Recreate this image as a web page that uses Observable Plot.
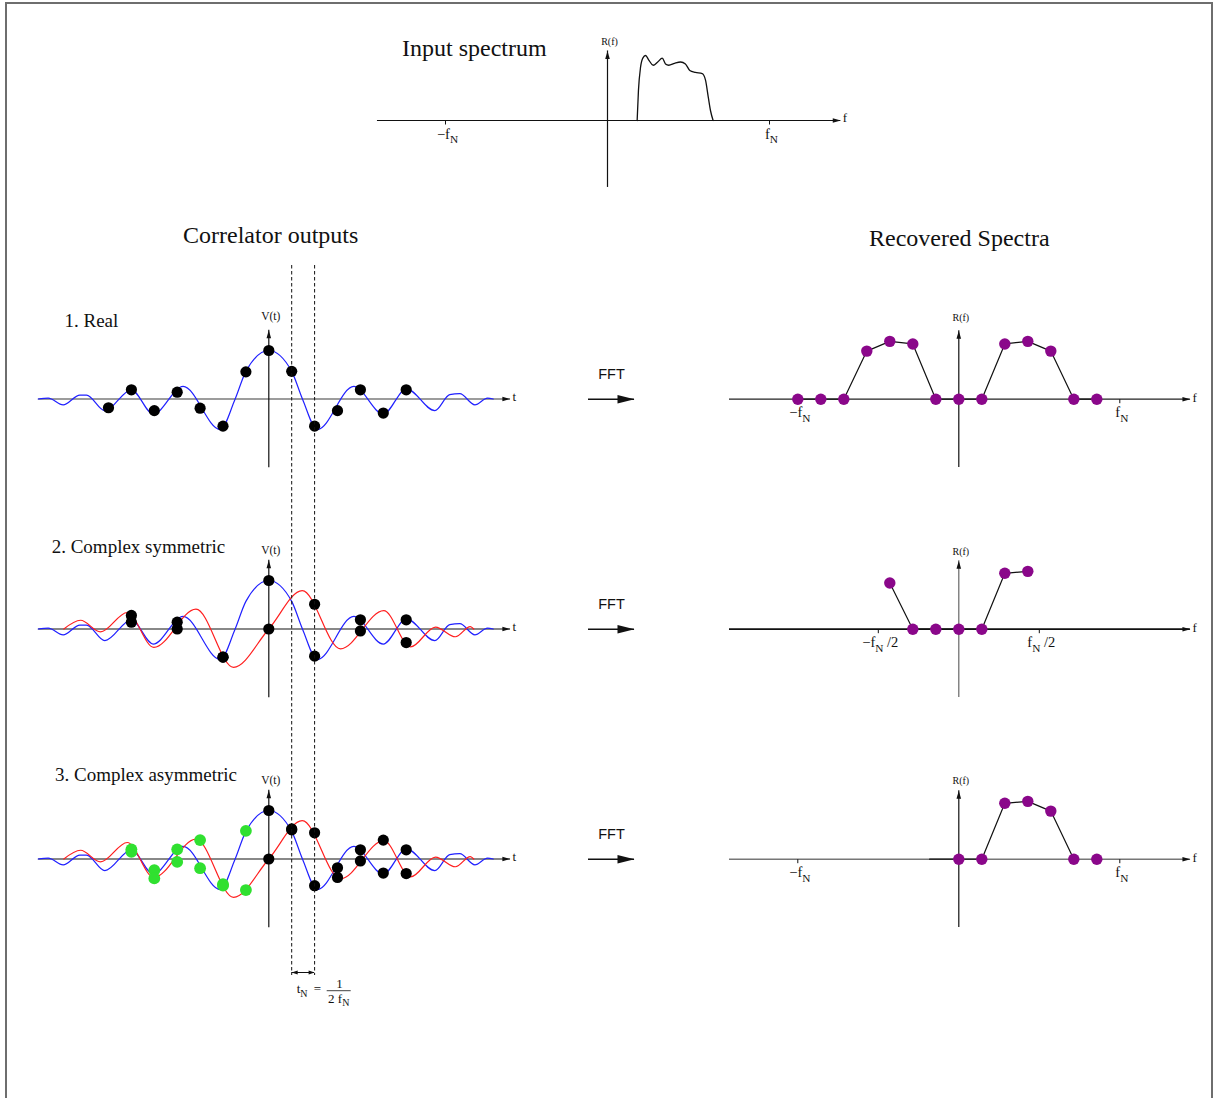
<!DOCTYPE html>
<html>
<head>
<meta charset="utf-8">
<title>Correlator outputs and recovered spectra</title>
<script src="https://cdn.jsdelivr.net/npm/d3@7"></script>
<script src="https://cdn.jsdelivr.net/npm/@observablehq/plot@0.6"></script>
<style>
  html, body { margin: 0; padding: 0; background: #fff; }
  #fig { position: relative; width: 1219px; height: 1098px; overflow: hidden; background: #fff; }
  #border { position: absolute; left: 5px; top: 2px; width: 1208px; height: 1200px; box-sizing: border-box;
            border: 2px solid #6e6e6e; border-bottom: none; }
</style>
</head>
<body>
<div id="fig"><div id="border"></div></div>
<script>
// ---------------- data ----------------

// Input spectrum R(f); f in units of the Nyquist frequency f_N
const inputF = [0.183, 0.191, 0.204, 0.218, 0.235, 0.255, 0.282, 0.310, 0.338, 0.358, 0.378, 0.414, 0.451, 0.481, 0.508, 0.543, 0.585, 0.605, 0.622, 0.636, 0.652];
const inputR = [0, 0.46, 0.82, 0.96, 1.00, 0.93, 0.85, 0.90, 0.96, 0.87, 0.85, 0.88, 0.90, 0.87, 0.77, 0.74, 0.72, 0.62, 0.36, 0.15, 0];
const inputTicks = [-1, 1];
const inputTickLabels = ["−f_{N}", "f_{N}"];
const inputAxisF = [-1.42, 1.44];
const inputAxisR = [-1.03, 1.07];

// Correlation function V(t); lag t in units of t_N = 1/(2 f_N)
const realCurveT = [-10.07, -9.63, -8.98, -8.25, -7.96, -7.16, -6.0, -5.05, -3.74, -2.12, -1.47, -1.0, 0, 1.0, 1.47, 2.12, 3.71, 5.0, 6.01, 7.25, 7.9, 8.34, 9.0, 9.55, 9.8];
const realCurveV = [0, 0.02, -0.12, 0.08, 0.08, -0.24, 0.19, -0.31, 0.26, -0.63, 0, 0.57, 1.0, 0.57, 0, -0.63, 0.26, -0.31, 0.21, -0.24, 0.09, 0.11, -0.12, 0.02, 0];
const imagCurveT = [-8.95, -8.22, -7.35, -6.18, -5.02, -3.18, -1.54, 0, 1.46, 3.13, 5.02, 6.19, 7.28, 8.15, 8.8, 8.95];
const imagCurveV = [0, 0.18, -0.06, 0.34, -0.38, 0.41, -0.79, 0, 0.79, -0.41, 0.38, -0.37, 0.04, -0.16, 0.05, 0];

// 1. Real correlator: samples at every lag
const realLags = [-7, -6, -5, -4, -3, -2, -1, 0, 1, 2, 3, 4, 5, 6];
const realSamples = [-0.18, 0.19, -0.24, 0.14, -0.19, -0.56, 0.56, 1.00, 0.57, -0.56, -0.24, 0.19, -0.29, 0.19];
// 2. Complex symmetric: real and imaginary parts at every second lag
const symLags = [-6, -4, -2, 0, 2, 4, 6];
const symRe = [0.14, 0.14, -0.58, 1.00, -0.56, 0.19, 0.19];
const symIm = [0.28, 0.00, -0.58, 0.00, 0.51, -0.04, -0.28];
// 3. Complex asymmetric: real and imaginary parts at every lag
const asymLags = [-6, -5, -4, -3, -2, -1, 0, 1, 2, 3, 4, 5, 6];
const asymRe = [0.15, -0.23, 0.20, -0.19, -0.52, 0.58, 1.00, 0.60, -0.55, -0.18, 0.19, -0.29, 0.19];
const asymIm = [0.20, -0.40, -0.06, 0.39, -0.55, -0.64, 0.00, 0.62, 0.54, -0.38, -0.04, 0.39, -0.30];
const corrAxisT = [-10.05, 10.55];
const corrAxisV = [-1.42, 1.42];
const nyquistLags = [1, 2];

// Recovered spectra; frequency channel k, with f_N = 7 channels
const realChan = [-7, -6, -5, -4, -3, -2, -1, 0, 1, 2, 3, 4, 5, 6];
const realSpec = [0, 0, 0, 0.74, 0.89, 0.85, 0, 0, 0, 0.85, 0.89, 0.74, 0, 0];
const symChan = [-3, -2, -1, 0, 1, 2, 3];
const symSpec = [0.71, 0, 0, 0, 0, 0.86, 0.89];
const asymChan = [0, 1, 2, 3, 4, 5, 6];
const asymSpec = [0, 0, 0.86, 0.89, 0.74, 0, 0];
const asymTraceChan = [-1.27, 0, 1, 2, 3, 4, 5];
const asymTraceSpec = [0, 0, 0, 0.86, 0.89, 0.74, 0];
const fullBandTicks = [-7, 7];
const fullBandLabels = ["−f_{N}", "f_{N}"];
const halfBandTicks = [-3.5, 3.5];
const halfBandLabels = ["−f_{N} /2", "f_{N} /2"];
const specAxisK = [-9.97, 10.07];
const specAxisR = [-1.05, 1.055];

const panelTitles = ["1. Real", "2. Complex symmetric", "3. Complex asymmetric"];
const sectionTitles = ["Input spectrum", "Correlator outputs", "Recovered Spectra"];
const fftLabel = "FFT";

// ---------------- drawing ----------------
const SERIF = "'Liberation Serif', 'Times New Roman', 'DejaVu Serif', serif";
const SANS = "'Liberation Sans', Arial, Helvetica, sans-serif";
const INK = "#111";
const BLUE = "#2020ff", RED = "#ff1e1e", GREEN = "#30e030", PURPLE = "#8a078a";

const fig = document.getElementById("fig");
const zip = (xs, ys, kx, ky) => xs.map((x, i) => ({[kx]: x, [ky]: ys[i]}));

// filled arrowheads and a small downward tick, as custom dot symbols
function headSymbol(dir, len, half) {
  return {draw(ctx) {
    if (dir === "right") { ctx.moveTo(0, 0); ctx.lineTo(-len, -half); ctx.lineTo(-len, half); }
    else if (dir === "left") { ctx.moveTo(0, 0); ctx.lineTo(len, -half); ctx.lineTo(len, half); }
    else { ctx.moveTo(0, 0); ctx.lineTo(-half, len); ctx.lineTo(half, len); }
    ctx.closePath();
  }};
}
const tickSymbol = {draw(ctx) { ctx.moveTo(0, 0); ctx.lineTo(0, 4); }};
const axisRight = headSymbol("right", 8, 2.3);
const axisUp = headSymbol("up", 8, 2.3);

// "−f_{N} /2"  ->  −f with subscript N followed by " /2"
function subscripts(svg) {
  d3.select(svg).selectAll("text").each(function () {
    const m = this.textContent.match(/^(.*?)_\{(.*?)\}(.*)$/);
    if (!m) return;
    const el = d3.select(this).text(null);
    el.append("tspan").text(m[1]);
    el.append("tspan").attr("dy", 4.5).attr("font-size", "0.78em").text(m[2]);
    if (m[3]) el.append("tspan").attr("dy", -4.5).text(m[3]);
  });
}

function mount(svg, left, top) {
  subscripts(svg);
  svg.style.position = "absolute";
  svg.style.left = left + "px";
  svg.style.top = top + "px";
  fig.appendChild(svg);
  return svg;
}

function frame(width, height, x, y, marks) {
  return Plot.plot({
    width, height, margin: 0,
    x: {type: "linear", axis: null, ...x},
    y: {type: "linear", axis: null, ...y},
    style: {background: "none", overflow: "visible", fontFamily: SERIF},
    marks
  });
}

// horizontal + vertical axes with arrowheads and end labels
function axes({xr, yr, xLabel, yLabel, stroke = INK, width = 1.2, vStroke = INK, yGap = 6, xDy = 2}) {
  return [
    Plot.ruleY([0], {x1: () => xr[0], x2: () => xr[1], stroke, strokeWidth: width}),
    Plot.dot([xr[1]], {x: d => d, y: () => 0, r: 1, symbol: axisRight, fill: INK, stroke: "none"}),
    Plot.ruleX([0], {y1: () => yr[0], y2: () => yr[1], stroke: vStroke, strokeWidth: 1.2}),
    Plot.dot([yr[1]], {x: () => 0, y: d => d, r: 1, symbol: axisUp, fill: INK, stroke: "none"}),
    Plot.text([yLabel], {x: () => 0, y: () => yr[1], text: d => d, dx: 2, dy: -yGap,
      textAnchor: "middle", lineAnchor: "bottom", fontSize: yLabel === "V(t)" ? 11.5 : 10, fill: INK}),
    Plot.text([xLabel], {x: () => xr[1], y: () => 0, text: d => d, dx: 2, dy: xDy,
      textAnchor: "start", lineAnchor: "bottom", fontSize: 13, fill: INK})
  ];
}

function ticks(values, labels) {
  const data = values.map((v, i) => ({v, label: labels[i]}));
  return [
    Plot.dot(data, {x: "v", y: () => 0, r: 1, symbol: tickSymbol, fill: "none", stroke: INK, strokeWidth: 1}),
    Plot.text(data, {x: "v", y: () => 0, text: "label", dx: 2, dy: 18,
      textAnchor: "middle", lineAnchor: "bottom", fontSize: 14.5, fill: INK})
  ];
}

// ---- input spectrum ----
mount(frame(500, 170,
  {domain: [0, 1], range: [247, 409]},
  {domain: [0, 1], range: [90, 25]},
  [
    ...axes({xr: inputAxisF, yr: inputAxisR, xLabel: "f", yLabel: "R(f)", xDy: 1}),
    ...ticks(inputTicks, inputTickLabels),
    Plot.line(zip(inputF, inputR, "f", "r"), {x: "f", y: "r", curve: "monotone-x", stroke: INK, strokeWidth: 1.3})
  ]), 360, 30);

// ---- correlator outputs ----
const rowTops = [300, 530, 760];
const corrX = {domain: [0, 10], range: [248.3, 477.3]};
const corrY = {domain: [0, 1], range: [98.5, 50]};
const realCurve = zip(realCurveT, realCurveV, "t", "v");
const imagCurve = zip(imagCurveT, imagCurveV, "t", "v");
const curve = (data, color) => Plot.line(data, {x: "t", y: "v", curve: "monotone-x", stroke: color, strokeWidth: 1.2});
const samples = (data, fill, r = 5.6) => Plot.dot(data, {x: "t", y: "v", r, fill, stroke: "none"});

const realRow = mount(frame(510, 180, corrX, corrY, [
  ...axes({xr: corrAxisT, yr: corrAxisV, xLabel: "t", yLabel: "V(t)", stroke: "#3a3a3a", yGap: 10, xDy: 2}),
  curve(realCurve, BLUE),
  samples(zip(realLags, realSamples, "t", "v"), "black")
]), 20, rowTops[0]);

mount(frame(510, 180, corrX, corrY, [
  ...axes({xr: corrAxisT, yr: corrAxisV, xLabel: "t", yLabel: "V(t)", stroke: "#888", width: 2, yGap: 6, xDy: 2}),
  curve(realCurve, BLUE),
  curve(imagCurve, RED),
  samples(zip(symLags, symRe, "t", "v"), "black"),
  samples(zip(symLags, symIm, "t", "v"), "black")
]), 20, rowTops[1]);

const asymReData = zip(asymLags, asymRe, "t", "v");
const asymImData = zip(asymLags, asymIm, "t", "v");
const negative = d => d.t < 0;
const nonNegative = d => d.t >= 0;
mount(frame(510, 180, corrX, corrY, [
  ...axes({xr: corrAxisT, yr: corrAxisV, xLabel: "t", yLabel: "V(t)", stroke: "#888", width: 2, yGap: 6, xDy: 2}),
  curve(realCurve, BLUE),
  curve(imagCurve, RED),
  samples(asymReData.filter(negative), GREEN, 5.9),
  samples(asymImData.filter(negative), GREEN, 5.9),
  samples(asymReData.filter(nonNegative), "black"),
  samples(asymImData.filter(nonNegative), "black")
]), 20, rowTops[2]);

// dashed markers one Nyquist interval apart, running through all three rows
mount(Plot.plot({
  width: 510, height: 710, margin: 0,
  x: {type: "linear", axis: null, ...corrX},
  style: {background: "none", overflow: "visible"},
  marks: [Plot.ruleX(nyquistLags, {x: d => d, stroke: INK, strokeWidth: 1, strokeDasharray: "3.5,2.5"})]
}), 20, 265);

// double-headed arrow spanning t_N
mount(frame(510, 50, corrX, {domain: [0, 1], range: [10, 40]}, [
  Plot.ruleY([0], {x1: () => nyquistLags[0], x2: () => nyquistLags[1], stroke: INK, strokeWidth: 1}),
  Plot.dot([nyquistLags[0]], {x: d => d, y: () => 0, r: 1, symbol: headSymbol("left", 6, 2), fill: INK, stroke: "none"}),
  Plot.dot([nyquistLags[1]], {x: d => d, y: () => 0, r: 1, symbol: headSymbol("right", 6, 2), fill: INK, stroke: "none"})
]), 20, 962);

// ---- FFT arrows ----
rowTops.forEach(top => {
  mount(Plot.plot({
    width: 70, height: 120, margin: 0,
    x: {type: "linear", axis: null, domain: [0, 1], range: [13, 59]},
    y: {type: "linear", axis: null, domain: [0, 1], range: [98.7, 33.7]},
    style: {background: "none", overflow: "visible", fontFamily: SANS},
    marks: [
      Plot.ruleY([0], {x1: () => 0, x2: () => 1, stroke: INK, strokeWidth: 1.4}),
      Plot.dot([1], {x: d => d, y: () => 0, r: 1, symbol: headSymbol("right", 17, 4.2), fill: INK, stroke: "none"}),
      Plot.text([fftLabel], {x: () => 0.5, y: () => 0, text: d => d, dy: -20.5, textAnchor: "middle",
        lineAnchor: "bottom", fontSize: 14.5, fill: INK, fontFamily: SANS})
    ]
  }), 575, top);
});

// ---- recovered spectra ----
const specX = {domain: [0, 10], range: [243.3, 473.3]};
const specY = {domain: [0, 1], range: [98.7, 33.7]};
function spectrum(top, chan, spec, trace, tickVals, tickLabels, opts) {
  const pts = zip(chan, spec, "k", "r");
  mount(frame(495, 180, specX, specY, [
    ...axes({xr: specAxisK, yr: specAxisR, xLabel: "f", yLabel: "R(f)", xDy: 3, ...opts}),
    ...ticks(tickVals, tickLabels),
    Plot.line(trace || pts, {x: "k", y: "r", stroke: INK, strokeWidth: 1.2}),
    Plot.dot(pts, {x: "k", y: "r", r: 5.7, fill: PURPLE, stroke: "none"})
  ]), 715, top);
}
spectrum(rowTops[0], realChan, realSpec, null, fullBandTicks, fullBandLabels, {stroke: "#222", yGap: 10});
spectrum(rowTops[1], symChan, symSpec, null, halfBandTicks, halfBandLabels, {stroke: "#111", width: 1.8, vStroke: "#666", yGap: 6});
spectrum(rowTops[2], asymChan, asymSpec, zip(asymTraceChan, asymTraceSpec, "k", "r"), fullBandTicks, fullBandLabels, {stroke: "#777", width: 1.5, yGap: 7});

// ---- titles and the t_N formula ----
const layer = d3.create("svg")
  .attr("width", 1219).attr("height", 1098)
  .style("position", "absolute").style("left", 0).style("top", 0)
  .style("pointer-events", "none")
  .attr("font-family", SERIF).attr("fill", INK);

const titleSpots = [[402, 56], [183, 243], [869, 246]];
sectionTitles.forEach((s, i) => layer.append("text")
  .attr("x", titleSpots[i][0]).attr("y", titleSpots[i][1]).attr("font-size", 24).text(s));
const panelSpots = [[64.5, 326.7], [51.7, 553.3], [55, 780.7]];
panelTitles.forEach((s, i) => layer.append("text")
  .attr("x", panelSpots[i][0]).attr("y", panelSpots[i][1]).attr("font-size", 19).text(s));

// t_N = 1 / (2 f_N), anchored on the first dashed marker
const xLag = realRow.scale("x");
const x0 = 20 + xLag.apply(nyquistLags[0]);
const tn = layer.append("text").attr("x", x0 + 5.5).attr("y", 993.3).attr("font-size", 13);
tn.append("tspan").text("t");
tn.append("tspan").attr("dy", 3.5).attr("font-size", 10).text("N");
layer.append("text").attr("x", x0 + 22.5).attr("y", 992.5).attr("font-size", 13).text("=");
layer.append("text").attr("x", x0 + 48.3).attr("y", 988.3).attr("font-size", 13).attr("text-anchor", "middle").text("1");
layer.append("line").attr("x1", x0 + 35.5).attr("x2", x0 + 59.5).attr("y1", 990.7).attr("y2", 990.7)
  .attr("stroke", INK).attr("stroke-width", 0.8);
const den = layer.append("text").attr("x", x0 + 47.5).attr("y", 1003.3).attr("font-size", 13).attr("text-anchor", "middle");
den.append("tspan").text("2 f");
den.append("tspan").attr("dy", 3).attr("font-size", 10).text("N");

fig.appendChild(layer.node());
</script>
</body>
</html>
